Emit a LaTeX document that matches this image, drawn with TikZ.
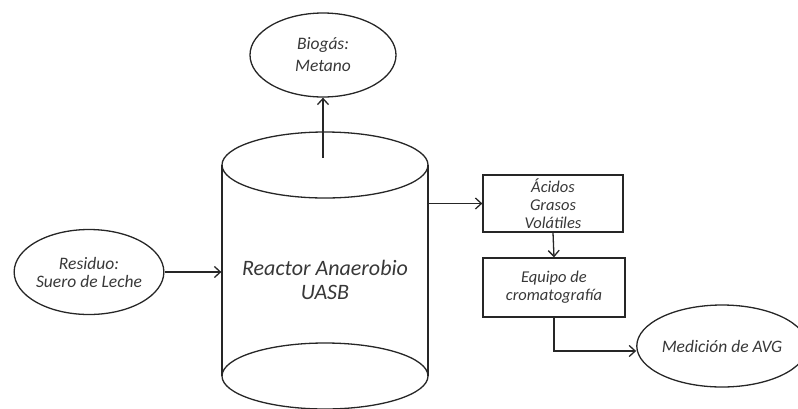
\documentclass[tikz,border=0pt]{standalone}
\usepackage{fontspec}
\setmainfont{Carlito}
\usetikzlibrary{shapes.geometric,arrows.meta}
\begin{document}
\begin{tikzpicture}[x=1pt,y=-1pt,
  line width=1.3pt, draw=black!85,
  lbl/.style={font=\itshape\fontsize{16.5}{18}\selectfont, text=black!78, align=center},
  oval/.style={ellipse, draw, inner sep=0pt, lbl},
  stepbox/.style={rectangle, draw, inner sep=0pt, lbl},
  arr/.style={-{Straight Barb[length=6pt,width=11pt,line width=1.3pt]}}]
\useasboundingbox (0,0) rectangle (798,408);

% outgoing gas
\node[oval, minimum width=146pt, minimum height=84pt,
      font=\itshape\fontsize{17.5}{22}\selectfont] (biogas) at (323,55) {Biogás:\\Metano};

% feed
\node[oval, minimum width=148pt, minimum height=85pt,
      font=\itshape\fontsize{17.5}{18}\selectfont] (feed) at (89,272) {Residuo:\\Suero de Leche};

% reactor cylinder
\draw (325,165) ellipse [x radius=103, y radius=33];
\draw (222,165) -- (222,376);
\draw (428,165) -- (428,376);
\draw (325,376) ellipse [x radius=103, y radius=33];
\node[minimum width=206pt, minimum height=211pt, inner sep=0pt] (reactor) at (325,270.5) {};
\node[lbl, font=\itshape\fontsize{22}{24}\selectfont] (reactorlbl) at (325,280) {Reactor Anaerobio\\UASB};
\coordinate (gasout) at (323,158);

% analysis chain
\node[stepbox, minimum width=140pt, minimum height=57pt] (agv) at (553,203.5)
  {Ácidos\\Grasos\\Volátiles};
\node[stepbox, minimum width=142pt, minimum height=59pt] (equipo) at (554,287.5)
  {Equipo de\\cromatografía};
\node[oval, minimum width=152pt, minimum height=82pt,
      font=\itshape\fontsize{17.5}{18}\selectfont] (medicion) at (722,346) {Medición de AVG};

% connectors
\draw[arr] (gasout) -- (biogas.south);
\draw[arr] (feed.east) -- (feed.east -| reactor.west);
\draw[arr] (agv.west -| reactor.east) -- (agv.west);
\draw[arr] (agv.south) -- (equipo.north);
\draw[arr] (equipo.south) |- ([yshift=-5pt]medicion.west);
\end{tikzpicture}
\end{document}
